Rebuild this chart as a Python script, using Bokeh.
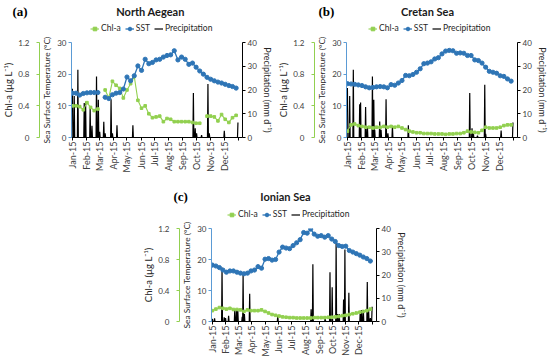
import math
import numpy as np
from bokeh.plotting import figure
from bokeh.models import (Range1d, LinearAxis, FixedTicker, Legend, LegendItem,
                          Label, Spacer, ColumnDataSource)
from bokeh.layouts import column, row
from bokeh.embed import file_html
from bokeh.resources import INLINE

nan = float("nan")

# ---------------- data ----------------
month_labels = ["Jan-15", "Feb-15", "Mar-15", "Apr-15", "May-15", "Jun-15",
                "Jul-15", "Aug-15", "Sep-15", "Oct-15", "Nov-15", "Dec-15"]
month_days = [0, 31, 59, 90, 120, 151, 181, 212, 243, 273, 304, 334]

# start day (day of year - 1) of each 8-day composite
composite_days = [0, 8, 16, 24, 32, 40, 48, 56, 64, 72, 80, 88, 96, 104, 112, 120,
                  128, 136, 144, 152, 160, 168, 176, 184, 192, 200, 208, 216, 224,
                  232, 240, 248, 256, 264, 272, 280, 288, 296, 304, 312, 320, 328,
                  336, 344, 352, 360]

# North Aegean
sst_na = [14.0, 14.0, 13.4, 13.9, 14.1, 14.2, 14.2, 14.2, nan, 12.7,
          12.3, 13.5, 14.0, 14.2, 15.3, 19.1, 17.9, 19.5, 22.6, 21.2,
          24.7, 23.3, 23.7, 24.5, 24.7, 25.4, 25.9, 26.1, 27.4, 24.5,
          25.4, 24.7, 23.1, 23.5, 22.2, 21.0, 20.0, 19.0, 18.4, 17.9,
          17.5, 17.2, 16.8, 16.4, 16.1, 15.6]
chl_na = [0.40, 0.40, 0.39, 0.35, 0.44, 0.38, 0.34, 0.36, nan, 0.60,
          0.50, 0.71, 0.66, 0.62, 0.50, 0.60, 0.68, 0.77, 0.47, 0.37,
          0.40, 0.30, 0.25, 0.26, 0.27, 0.20, 0.24, 0.23, 0.20, 0.20,
          0.20, 0.20, 0.20, 0.19, 0.18, 0.18, nan, 0.27, 0.27, 0.26,
          0.21, 0.29, 0.23, 0.19, 0.25, 0.28]
rain_na_days = [0, 4, 12, 26, 29, 39, 43, 53, 57, 60, 69, 72, 85, 88, 98, 133,
                266, 270, 273, 284, 298, 301, 334, 364]
rain_na_mm = [20.5, 17.5, 28.5, 14.5, 15.0, 12.6, 4.9, 25.7, 15.9, 2.4, 6.6, 1.8,
              16.1, 1.8, 5.2, 5.2, 18.7, 3.9, 1.8, 1.0, 22.5, 1.8, 2.8, 6.3]

# Cretan Sea
sst_cs = [17.0, 16.9, 16.8, 16.6, 16.4, 16.0, 15.7, 15.8, 16.0, 16.1,
          16.0, 15.7, 16.7, 16.5, 17.2, 18.0, 19.6, 19.5, 19.9, 20.6,
          21.7, 23.3, 23.5, 23.9, 24.8, 25.2, 26.4, 27.3, 27.5, 27.4,
          26.6, 26.7, 26.6, 25.9, 25.9, 24.5, 24.3, 23.5, 22.2, 20.9,
          20.6, 20.3, 19.5, 19.3, 18.5, 17.8]
chl_cs = [0.08, 0.16, 0.17, 0.15, 0.14, 0.13, 0.13, 0.12, 0.13, 0.13,
          0.14, 0.13, 0.14, 0.13, 0.14, 0.12, 0.10, 0.08, 0.07, 0.06,
          0.06, 0.05, 0.05, 0.05, 0.045, 0.045, 0.045, 0.04, 0.045, 0.045,
          0.05, 0.05, 0.06, 0.08, 0.07, 0.065, 0.06, 0.09, 0.13, 0.12,
          0.12, 0.12, 0.13, 0.15, 0.16, 0.16]
rain_cs_days = [0, 5, 13, 27, 29, 40, 44, 55, 58, 60, 71, 74, 85, 89, 99, 134,
                269, 274, 277, 286, 302, 304, 338, 364]
rain_cs_mm = [20.8, 17.5, 28.5, 14.0, 14.7, 12.8, 4.6, 25.7, 15.9, 3.2, 6.7, 3.2,
              16.1, 1.8, 4.9, 5.2, 18.7, 3.9, 1.8, 0.8, 22.2, 1.5, 2.9, 6.3]

# Ionian Sea
sst_is = [18.2, 17.9, 17.4, 16.6, 15.9, 16.3, 16.3, 15.9, 15.6, 15.4,
          15.6, 16.3, 16.6, 17.7, 17.2, 20.1, 20.3, 19.8, 20.0, 22.4,
          24.0, 23.7, 23.5, 24.5, 25.4, 26.4, 28.7, 28.5, 29.8, 28.2,
          27.5, 27.7, 27.2, 27.7, 26.6, 25.8, 24.5, 24.2, 24.3, 22.9,
          22.4, 21.9, 21.4, 20.8, 20.3, 19.5]
chl_is = [0.14, 0.16, 0.18, 0.17, 0.16, 0.17, 0.155, 0.155, 0.15, 0.13,
          0.15, 0.14, 0.14, 0.14, 0.15, 0.13, 0.11, 0.09, 0.08, 0.07,
          0.06, 0.055, 0.05, 0.05, 0.045, 0.045, 0.045, 0.045, 0.045, 0.05,
          0.05, 0.05, 0.05, 0.055, 0.055, 0.06, 0.065, 0.075, 0.08, 0.09,
          0.10, 0.11, 0.12, 0.13, 0.14, 0.16]
rain_is_days = [0, 5, 22, 27, 30, 37, 51, 55, 58, 68, 70, 73, 85, 149, 225, 229,
                257, 268, 273, 282, 285, 289, 299, 302, 311, 337, 340, 344, 353,
                356, 360, 364]
rain_is_mm = [1.1, 1.4, 23.2, 1.8, 1.5, 2.5, 4.9, 4.9, 4.6, 2.0, 20.1, 3.2, 11.9,
              2.5, 5.3, 24.6, 2.2, 21.2, 14.7, 35.2, 3.2, 3.2, 9.5, 31.0, 12.4,
              4.6, 4.9, 4.9, 17.0, 4.9, 1.5, 6.3]

series_names = ["Chl-a", "SST", "Precipitation"]

# ---------------- styling ----------------
GREEN = "#92D050"
BLUE = "#2E75B6"
AXIS_BLUE = "#5B9BD5"
TICK_COLOR = "#404040"
FONT = "Lato"
PAGE_W = 550


def daily_series(days, mm):
    arr = np.zeros(365)
    for d, v in zip(days, mm):
        arr[d] = v
    return arr


def style_axis(ax, line_color, label_size="8px", standoff=2):
    ax.axis_line_color = line_color
    ax.major_tick_line_color = line_color
    ax.major_tick_out = 3
    ax.major_tick_in = 0
    ax.minor_tick_line_color = None
    ax.major_label_text_font = FONT
    ax.major_label_text_font_size = label_size
    ax.major_label_text_color = TICK_COLOR
    ax.major_label_standoff = standoff
    ax.axis_label_text_font = FONT
    ax.axis_label_text_font_size = "9.5px"
    ax.axis_label_text_font_style = "normal"
    ax.axis_label_text_color = "#262626"
    ax.axis_label_standoff = 2


def make_panel(sst, chl, rain_days, rain_mm, left, fw, right, top, fh, bottom):
    p = figure(width=left + fw + right, height=top + fh + bottom,
               min_border_left=left, min_border_right=right,
               min_border_top=top, min_border_bottom=bottom,
               x_range=Range1d(-2, 374), y_range=Range1d(0, 30),
               output_backend="svg", toolbar_location=None)
    p.outline_line_color = None
    p.xgrid.visible = False
    p.ygrid.visible = False
    p.extra_y_ranges = {"chl": Range1d(0, 1.2), "rain": Range1d(0, 40)}

    # x axis
    xa = p.xaxis[0]
    style_axis(xa, "black", "9px", 1)
    xa.ticker = FixedTicker(ticks=month_days + [365])
    overrides = {d: m for d, m in zip(month_days, month_labels)}
    overrides[365] = ""
    xa.major_label_overrides = overrides
    xa.major_label_orientation = math.pi / 2

    # SST axis (inner left)
    ya = p.yaxis[0]
    style_axis(ya, AXIS_BLUE, "8px", 2)
    ya.ticker = FixedTicker(ticks=[0, 10, 20, 30])
    ya.axis_label = "Sea Surface Temperature (°C)"
    ya.axis_label_text_font_size = "8.4px"

    # Chl-a axis (outer left)
    ca = LinearAxis(y_range_name="chl", ticker=FixedTicker(ticks=[0, 0.4, 0.8, 1.2]),
                    axis_label="Chl-a (µg L⁻¹)")
    style_axis(ca, GREEN, "8px", 7)
    ca.axis_label_standoff = 1
    ca.major_label_overrides = {0: "0"}
    p.add_layout(ca, "left")

    # Precipitation axis (right)
    ra = LinearAxis(y_range_name="rain", ticker=FixedTicker(ticks=[0, 10, 20, 30, 40]),
                    axis_label="Precipitation (mm d⁻¹)")
    style_axis(ra, "black", "8px", 2)
    ra.axis_label_text_font_size = "9px"
    p.add_layout(ra, "right")

    rain_src = ColumnDataSource(dict(day=list(range(365)),
                                     mm=daily_series(rain_days, rain_mm)))
    src = ColumnDataSource(dict(day=composite_days, sst=sst, chl=chl))

    p.line("day", "mm", source=rain_src, y_range_name="rain",
           line_color="black", line_width=1.2)
    p.line("day", "chl", source=src, y_range_name="chl",
           line_color=GREEN, line_width=1.1)
    p.scatter("day", "chl", source=src, y_range_name="chl", marker="square",
              size=2.6, fill_color=GREEN, line_color=GREEN)
    p.line("day", "sst", source=src, line_color=BLUE, line_width=1.3)
    p.scatter("day", "sst", source=src, marker="circle", size=4.2,
              fill_color=BLUE, line_color=BLUE)
    return p


def make_header(height, y_top, panels):
    """Strip above a row holding the panel letters, names and legends.
    Its ranges are in page pixels so the texts line up with the panels below."""
    h = figure(width=PAGE_W, height=height, x_range=Range1d(0, PAGE_W),
               y_range=Range1d(y_top + height, y_top),
               x_axis_location=None, y_axis_location=None, min_border=0,
               output_backend="svg", toolbar_location=None)
    h.outline_line_color = None
    h.xgrid.visible = False
    h.ygrid.visible = False
    # legend key glyphs (they hold no drawable point)
    key = ColumnDataSource(dict(x=[nan], y=[nan]))
    kc_l = h.line("x", "y", source=key, line_color=GREEN, line_width=1.1)
    kc_s = h.scatter("x", "y", source=key, marker="square", size=2.6,
                     fill_color=GREEN, line_color=GREEN)
    ks_l = h.line("x", "y", source=key, line_color=BLUE, line_width=1.3)
    ks_s = h.scatter("x", "y", source=key, marker="circle", size=4.2,
                     fill_color=BLUE, line_color=BLUE)
    kr_l = h.line("x", "y", source=key, line_color="black", line_width=1.2)
    for tag, name, tag_x, center_x, text_y, legend_left, legend_y in panels:
        h.add_layout(Label(x=tag_x, y=text_y, text=tag, text_font="Liberation Serif",
                           text_font_style="bold", text_font_size="13px",
                           text_baseline="middle", text_align="left",
                           text_color="black"))
        h.add_layout(Label(x=center_x, y=text_y, text=name, text_font=FONT,
                           text_font_style="bold", text_font_size="11px",
                           text_baseline="middle", text_align="center",
                           text_color="#1a1a1a"))
        leg = Legend(items=[LegendItem(label=series_names[0], renderers=[kc_l, kc_s]),
                            LegendItem(label=series_names[1], renderers=[ks_l, ks_s]),
                            LegendItem(label=series_names[2], renderers=[kr_l])],
                     orientation="horizontal", location=(legend_left, legend_y),
                     border_line_color=None, background_fill_alpha=0,
                     label_text_font=FONT, label_text_font_size="8.5px",
                     label_text_color="#262626", label_width=0,
                     glyph_width=9, glyph_height=9, label_height=9,
                     label_standoff=2, spacing=4, padding=2, margin=0)
        h.add_layout(leg)
    return h


# panel frames: (a) x 63-244, (b) x 342-521, (c) x 201-379
pa = make_panel(sst_na, chl_na, rain_na_days, rain_na_mm,
                left=63, fw=181, right=31, top=8, fh=95, bottom=43)
pb = make_panel(sst_cs, chl_cs, rain_cs_days, rain_cs_mm,
                left=67, fw=179, right=29, top=8, fh=95, bottom=43)
pc = make_panel(sst_is, chl_is, rain_is_days, rain_is_mm,
                left=61, fw=178, right=30, top=8, fh=95, bottom=36)

head1 = make_header(34, 0, [("(a)", "North Aegean", 12, 150, 11, 90, 1),
                            ("(b)", "Cretan Sea", 318, 427, 11, 368, 1)])
head2 = make_header(40, 180, [("(c)", "Ionian Sea", 173, 285, 196, 227, 1)])

layout = column(head1, row(pa, pb), head2, row(Spacer(width=140, height=10), pc))

open("out.html", "w").write(file_html(layout, INLINE))
